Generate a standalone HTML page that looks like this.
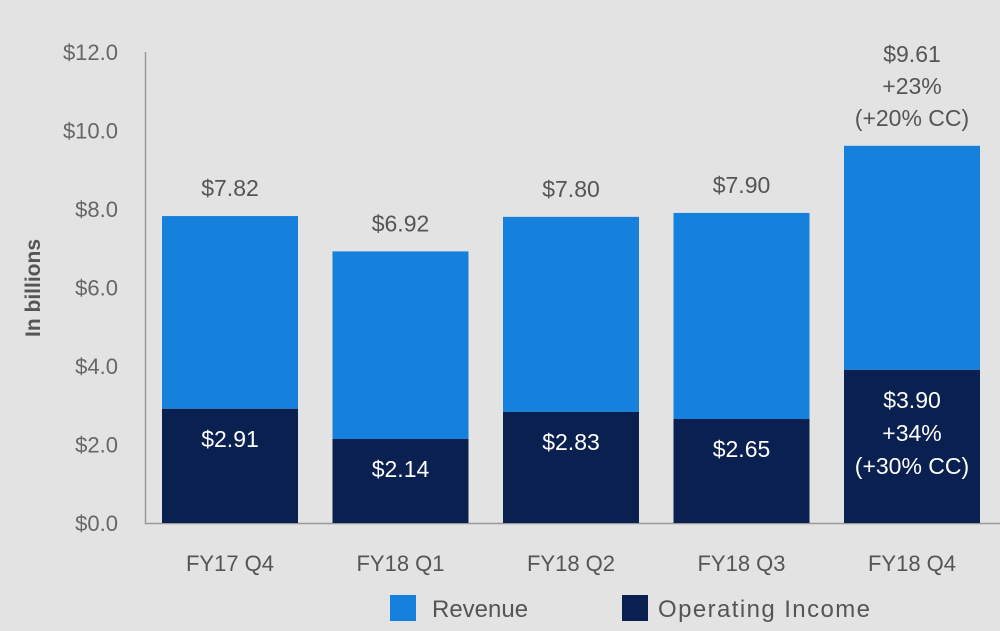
<!DOCTYPE html>
<html><head><meta charset="utf-8"><style>
html,body{margin:0;padding:0;background:#e3e3e3;}
svg{display:block;font-family:"Liberation Sans",sans-serif;}
</style></head><body>
<svg id="chart" width="1000" height="631" viewBox="0 0 1000 631">
<rect width="1000" height="631" fill="#e3e3e3"/>
<g id="yaxis"></g>
<g id="bars"></g>
<g id="xaxis"></g>
<text x="40" y="288" transform="rotate(-90 40 288)" text-anchor="middle" font-size="21" font-weight="bold" fill="#555">In billions</text>
<g>
<rect x="390" y="595" width="26" height="26" fill="#1581dc"/>
<text x="432" y="617" font-size="24" fill="#555">Revenue</text>
<rect x="622" y="595" width="26" height="26" fill="#0a2050"/>
<text x="658" y="617" font-size="24" fill="#555" textLength="212">Operating Income</text>
</g>
</svg>
<script>
const categories=["FY17 Q4","FY18 Q1","FY18 Q2","FY18 Q3","FY18 Q4"];
const revenue=[7.82,6.92,7.80,7.90,9.61];
const income=[2.91,2.14,2.83,2.65,3.90];
const revLabels=[["$7.82"],["$6.92"],["$7.80"],["$7.90"],["$9.61","+23%","(+20% CC)"]];
const incLabels=[["$2.91"],["$2.14"],["$2.83"],["$2.65"],["$3.90","+34%","(+30% CC)"]];
const yTicks=[0,2,4,6,8,10,12];
const NS="http://www.w3.org/2000/svg";
const y0=523,yTop=52,yMax=12;
function y(v){return y0-(v/yMax)*(y0-yTop);}
function xl(i){return 162+i*170.5;}
const bw=136;
function mk(tag,attrs,parent,txt){const e=document.createElementNS(NS,tag);for(const k in attrs)e.setAttribute(k,attrs[k]);if(txt!==undefined)e.textContent=txt;parent.appendChild(e);return e;}
const ya=document.getElementById('yaxis'),bars=document.getElementById('bars'),xa=document.getElementById('xaxis');
yTicks.forEach(t=>{
  const e=mk('text',{x:118,y:y(t)+8,'text-anchor':'end','font-size':22,fill:'#666'},ya,'$'+t.toFixed(1));
  
  
});
const ax=mk('path',{d:`M145.5 ${yTop} V${y0+0.5} H1000`,stroke:'#999','stroke-width':1.5,fill:'none'},ya);


categories.forEach((c,i)=>{
  const x=xl(i);
  const r=mk('rect',{x:x,y:y(revenue[i]),width:bw,height:y(income[i])-y(revenue[i]),fill:'#1581dc'},bars);
  
  
  const d=mk('rect',{x:x,y:y(income[i]),width:bw,height:y0-y(income[i]),fill:'#0a2050'},bars);
  
  
  const rl=revLabels[i];
  rl.forEach((s,j)=>{
    const t=mk('text',{x:x+bw/2,y:y(revenue[i])-20-(rl.length-1-j)*32,'text-anchor':'middle','font-size':23,fill:'#555'},bars,s);
    
    
  });
  const il=incLabels[i];
  il.forEach((s,j)=>{
    const t=mk('text',{x:x+bw/2,y:y(income[i])+38+j*33,'text-anchor':'middle','font-size':23,fill:'#fff'},bars,s);
    
    
  });
  const xt=mk('text',{x:x+bw/2,y:571,'text-anchor':'middle','font-size':22,fill:'#555'},xa,c);
  
  
});
</script>
</body></html>
